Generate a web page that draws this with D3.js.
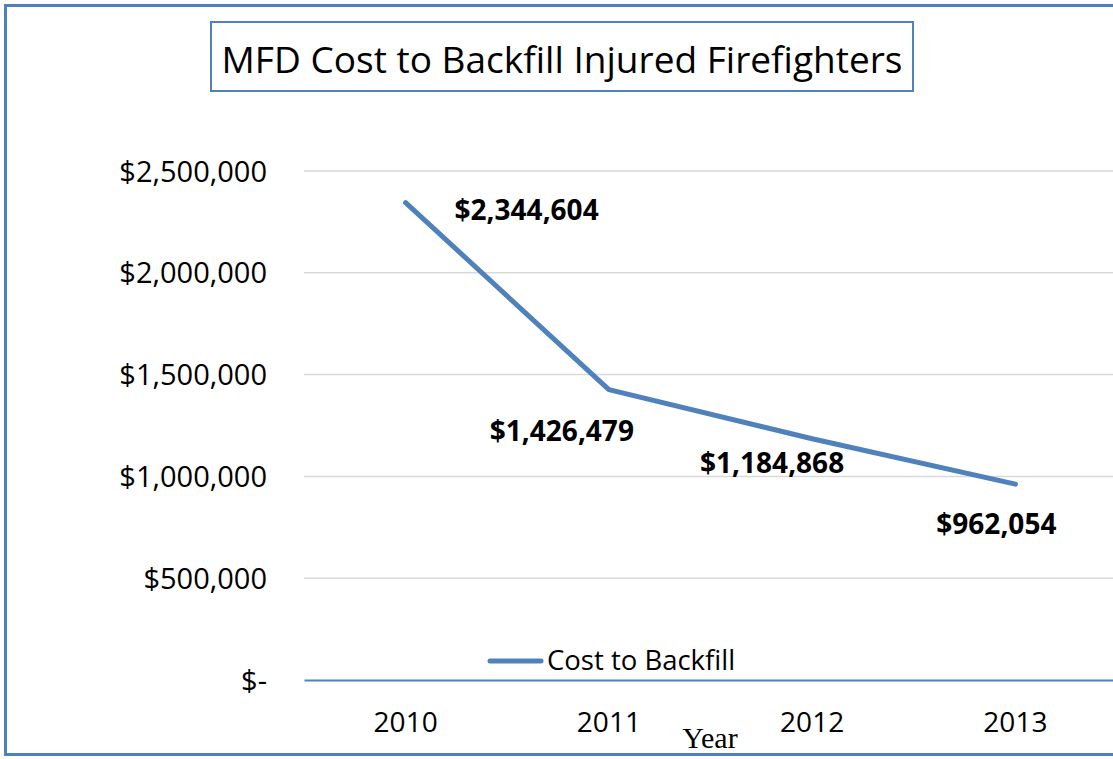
<!DOCTYPE html>
<html>
<head>
<meta charset="utf-8">
<script src="https://cdn.jsdelivr.net/npm/d3@7"></script>
<style>
  html, body { margin: 0; padding: 0; background: #fff; overflow: hidden; }
  svg { display: block; }
</style>
</head>
<body>
<svg id="chart" width="1113" height="759"></svg>
<script>
// ---- data ----
const categories = ["2010", "2011", "2012", "2013"];
const costToBackfill = [2344604, 1426479, 1184868, 962054];
const yTickValues = [0, 500000, 1000000, 1500000, 2000000, 2500000];
const yTickLabels = ["$-", "$500,000", "$1,000,000", "$1,500,000", "$2,000,000", "$2,500,000"];
const dataLabels = ["$2,344,604", "$1,426,479", "$1,184,868", "$962,054"];
const seriesName = "Cost to Backfill";
const titleText = "MFD Cost to Backfill Injured Firefighters";
const xAxisTitle = "Year";

// ---- layout ----
const blue = "#4f81bd";
const font = "'Open Sans', 'Liberation Sans', sans-serif";
const svg = d3.select("#chart");

// outer border (chart area cropped on the right)
svg.append("rect")
  .attr("x", 5.5).attr("y", 5.5)
  .attr("width", 1200).attr("height", 749)
  .attr("fill", "#fff").attr("stroke", blue).attr("stroke-width", 3);

// title box
svg.append("rect")
  .attr("x", 211).attr("y", 22)
  .attr("width", 702).attr("height", 69)
  .attr("fill", "#fff").attr("stroke", blue).attr("stroke-width", 2);
svg.append("text")
  .attr("x", 562).attr("y", 73)
  .attr("text-anchor", "middle")
  .attr("font-family", font).attr("font-size", 36)
  .attr("textLength", 681).attr("lengthAdjust", "spacingAndGlyphs")
  .attr("fill", "#000")
  .text(titleText);

const x = d3.scaleBand().domain(categories).range([304, 1117]).paddingInner(0).paddingOuter(0);
const y = d3.scaleLinear().domain([0, 2500000]).range([680, 171]);

// gridlines
svg.append("g").selectAll("line")
  .data(yTickValues.filter(v => v > 0))
  .join("line")
  .attr("x1", 304).attr("x2", 1117)
  .attr("y1", d => y(d)).attr("y2", d => y(d))
  .attr("stroke", "#d9d9d9").attr("stroke-width", 1.5);

// y axis labels
const yAxis = d3.axisLeft(y).tickValues(yTickValues)
  .tickFormat((d, i) => yTickLabels[i]).tickSize(0).tickPadding(0);
const yg = svg.append("g").attr("transform", "translate(267,0)").call(yAxis);
yg.select(".domain").remove();
yg.selectAll("text")
  .attr("font-family", font).attr("font-size", 29).attr("fill", "#000")
  .attr("dy", "0.35em");

// x axis
const xAxis = d3.axisBottom(x).tickSize(0).tickPadding(0);
const xg = svg.append("g").attr("transform", "translate(0,680)").call(xAxis);
xg.select(".domain").attr("stroke", blue).attr("stroke-width", 2);
xg.selectAll("text")
  .attr("font-family", font).attr("font-size", 28).attr("fill", "#000")
  .attr("y", 52).attr("dy", 0);

// x axis title
svg.append("text")
  .attr("x", 710).attr("y", 748)
  .attr("text-anchor", "middle")
  .attr("font-family", "'Liberation Serif', 'DejaVu Serif', serif")
  .attr("font-size", 30).attr("fill", "#000")
  .text(xAxisTitle);

// line
const line = d3.line()
  .x((d, i) => x(categories[i]) + x.bandwidth() / 2)
  .y(d => y(d));
svg.append("path")
  .datum(costToBackfill)
  .attr("d", line)
  .attr("fill", "none")
  .attr("stroke", blue).attr("stroke-width", 5)
  .attr("stroke-linejoin", "round").attr("stroke-linecap", "round");

// data labels (offsets relative to points)
const labelOffsets = [[121, 17], [-47, 51], [-40, 34], [-19, 50]];
svg.append("g").selectAll("text")
  .data(costToBackfill)
  .join("text")
  .attr("x", (d, i) => x(categories[i]) + x.bandwidth() / 2 + labelOffsets[i][0])
  .attr("y", (d, i) => y(d) + labelOffsets[i][1])
  .attr("text-anchor", "middle")
  .attr("font-family", font).attr("font-size", 28).attr("font-weight", "bold")
  .attr("fill", "#000")
  .text((d, i) => dataLabels[i]);

// legend
svg.append("line")
  .attr("x1", 490).attr("x2", 541)
  .attr("y1", 661).attr("y2", 661)
  .attr("stroke", blue).attr("stroke-width", 5).attr("stroke-linecap", "round");
svg.append("text")
  .attr("x", 547).attr("y", 670)
  .attr("font-family", font).attr("font-size", 27.5).attr("fill", "#000")
  .text(seriesName);
</script>
</body>
</html>
